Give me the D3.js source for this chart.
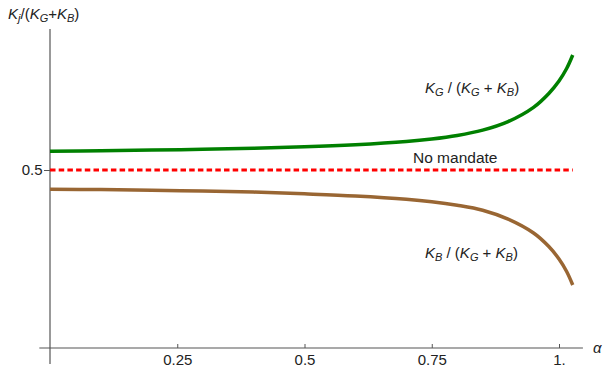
<!DOCTYPE html>
<html>
<head>
<meta charset="utf-8">
<script src="https://cdn.jsdelivr.net/npm/d3@7"></script>
<style>
  body { margin: 0; background: #fff; }
  svg { font-family: "Liberation Sans", Arial, sans-serif; }
</style>
</head>
<body>
<svg id="chart" width="607" height="377"></svg>
<script>
// values
const alpha = [0, 0.1, 0.2, 0.3, 0.4, 0.5, 0.6, 0.7, 0.75, 0.8, 0.85, 0.9, 0.95, 0.98, 1.0, 1.015, 1.027];
const greenShare = [0.553, 0.554, 0.556, 0.558, 0.561, 0.565, 0.571, 0.580, 0.587, 0.597, 0.612, 0.636, 0.676, 0.715, 0.750, 0.785, 0.823];
const brownShare = [0.446, 0.445, 0.443, 0.441, 0.438, 0.433, 0.427, 0.418, 0.411, 0.401, 0.387, 0.362, 0.323, 0.285, 0.250, 0.215, 0.177];
const noMandate = 0.5;
const xTicks = [0.25, 0.5, 0.75, 1];
const xTickLabels = ['0.25', '0.5', '0.75', '1.'];
const yTicks = [0.5];
const yTickLabels = ['0.5'];

const svg = d3.select('#chart');

const x = d3.scaleLinear().domain([0, 1]).range([50, 559]);
const y = d3.scaleLinear().domain([0, 0.9]).range([348, 27.6]);

const axisColor = '#555';

// axes lines (crossing at origin, a bit past each other)
svg.append('line')
  .attr('x1', x(-0.021)).attr('x2', x(1.047))
  .attr('y1', y(0)).attr('y2', y(0))
  .attr('stroke', axisColor).attr('stroke-width', 1.2);
svg.append('line')
  .attr('x1', x(0)).attr('x2', x(0))
  .attr('y1', y(-0.045)).attr('y2', y(0.896))
  .attr('stroke', axisColor).attr('stroke-width', 1.2);

// x axis ticks
const xAxis = svg.append('g')
  .attr('transform', `translate(0,${y(0)})`)
  .call(d3.axisBottom(x)
    .tickValues(xTicks)
    .tickFormat((d, i) => xTickLabels[i])
    .tickSizeInner(-4)
    .tickSizeOuter(0)
    .tickPadding(6.5));
xAxis.select('.domain').remove();
xAxis.selectAll('line').attr('stroke', axisColor);
xAxis.selectAll('text')
  .attr('font-size', 15)
  .attr('font-family', '"Liberation Sans", Arial, sans-serif')
  .attr('fill', '#222');

// y axis ticks
const yAxis = svg.append('g')
  .attr('transform', `translate(${x(0)},0)`)
  .call(d3.axisLeft(y)
    .tickValues(yTicks)
    .tickFormat((d, i) => yTickLabels[i])
    .tickSizeInner(6)
    .tickSizeOuter(0)
    .tickPadding(1.5));
yAxis.select('.domain').remove();
yAxis.selectAll('line').attr('stroke', axisColor);
yAxis.selectAll('text')
  .attr('font-size', 15)
  .attr('font-family', '"Liberation Sans", Arial, sans-serif')
  .attr('fill', '#222');

// axis labels
const title = svg.append('text')
  .attr('x', 8).attr('y', 18.5)
  .attr('font-size', 15).attr('fill', '#222');
title.append('tspan').attr('font-style', 'italic').text('K');
title.append('tspan').attr('font-style', 'italic').attr('font-size', 11).attr('dy', 3).text('j');
title.append('tspan').attr('dy', -3).text('/(');
title.append('tspan').attr('font-style', 'italic').text('K');
title.append('tspan').attr('font-style', 'italic').attr('font-size', 11).attr('dy', 3).text('G');
title.append('tspan').attr('dy', -3).text('+');
title.append('tspan').attr('font-style', 'italic').text('K');
title.append('tspan').attr('font-style', 'italic').attr('font-size', 11).attr('dy', 3).text('B');
title.append('tspan').attr('dy', -3).text(')');

svg.append('text')
  .attr('x', 593).attr('y', 353)
  .attr('font-size', 15).attr('font-style', 'italic').attr('fill', '#222')
  .text('α');

// lines
const line = d3.line()
  .x(d => x(d[0]))
  .y(d => y(d[1]))
  .curve(d3.curveCatmullRom.alpha(0.5));

svg.append('path')
  .datum([[0, noMandate], [alpha[alpha.length - 1], noMandate]])
  .attr('d', line)
  .attr('fill', 'none')
  .attr('stroke', '#ff0000')
  .attr('stroke-width', 3.2)
  .attr('stroke-dasharray', '5.5,3.2');

svg.append('path')
  .datum(alpha.map((a, i) => [a, greenShare[i]]))
  .attr('d', line)
  .attr('fill', 'none')
  .attr('stroke', '#008000')
  .attr('stroke-width', 3.5);

svg.append('path')
  .datum(alpha.map((a, i) => [a, brownShare[i]]))
  .attr('d', line)
  .attr('fill', 'none')
  .attr('stroke', '#996633')
  .attr('stroke-width', 3.5);

// curve labels
function shareLabel(xPos, yPos, num) {
  const t = svg.append('text')
    .attr('x', xPos).attr('y', yPos)
    .attr('font-size', 15).attr('fill', '#222');
  t.append('tspan').attr('font-style', 'italic').text('K');
  t.append('tspan').attr('font-style', 'italic').attr('font-size', 11).attr('dy', 3).text(num);
  t.append('tspan').attr('dy', -3).text(' / (');
  t.append('tspan').attr('font-style', 'italic').text('K');
  t.append('tspan').attr('font-style', 'italic').attr('font-size', 11).attr('dy', 3).text('G');
  t.append('tspan').attr('dy', -3).text(' + ');
  t.append('tspan').attr('font-style', 'italic').text('K');
  t.append('tspan').attr('font-style', 'italic').attr('font-size', 11).attr('dy', 3).text('B');
  t.append('tspan').attr('dy', -3).text(')');
}
shareLabel(425, 93, 'G');
shareLabel(425, 258, 'B');

svg.append('text')
  .attr('x', 413).attr('y', 163)
  .attr('font-size', 15.5).attr('fill', '#222')
  .text('No mandate');
</script>
</body>
</html>
